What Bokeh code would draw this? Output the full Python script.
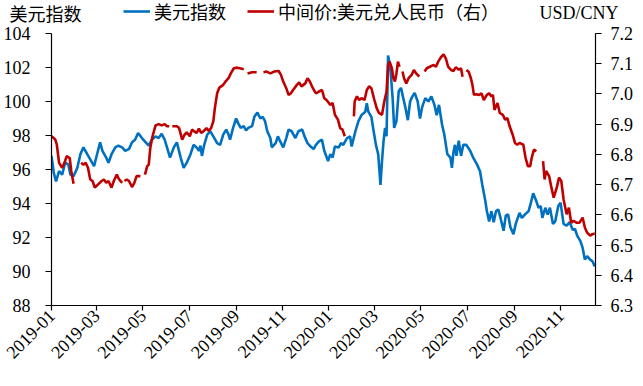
import math
from datetime import datetime
import pandas as pd
from bokeh.plotting import figure
from bokeh.models import (Range1d, LinearAxis, MonthsTicker, DatetimeTickFormatter,
                          FixedTicker, Legend, LegendItem, Label, CustomJSTickFormatter)
from bokeh.embed import file_html
from bokeh.resources import INLINE

NaN = float("nan")

# 美元指数 (left axis)
dxy_dates = [
    "2019-01-01", "2019-01-04", "2019-01-07", "2019-01-11", "2019-01-15", "2019-01-19", "2019-01-23", "2019-01-26",
    "2019-01-30", "2019-02-04", "2019-02-08", "2019-02-12", "2019-02-17", "2019-02-21", "2019-02-26", "2019-03-02",
    "2019-03-06", "2019-03-09", "2019-03-14", "2019-03-17", "2019-03-21", "2019-03-26", "2019-03-30", "2019-04-04",
    "2019-04-08", "2019-04-13", "2019-04-17", "2019-04-21", "2019-04-25", "2019-04-30", "2019-05-05", "2019-05-09",
    "2019-05-13", "2019-05-18", "2019-05-22", "2019-05-26", "2019-05-30", "2019-06-02", "2019-06-06", "2019-06-11",
    "2019-06-15", "2019-06-20", "2019-06-24", "2019-06-28", "2019-07-03", "2019-07-07", "2019-07-11", "2019-07-14",
    "2019-07-16", "2019-07-18", "2019-07-21", "2019-07-25", "2019-07-29", "2019-08-02", "2019-08-07", "2019-08-11",
    "2019-08-15", "2019-08-19", "2019-08-22", "2019-08-24", "2019-08-28", "2019-09-01", "2019-09-04", "2019-09-07",
    "2019-09-11", "2019-09-14", "2019-09-17", "2019-09-22", "2019-09-25", "2019-09-29", "2019-10-03", "2019-10-06",
    "2019-10-09", "2019-10-12", "2019-10-16", "2019-10-18", "2019-10-23", "2019-10-26", "2019-10-29", "2019-11-02",
    "2019-11-06", "2019-11-09", "2019-11-13", "2019-11-18", "2019-11-22", "2019-11-27", "2019-11-30", "2019-12-04",
    "2019-12-08", "2019-12-12", "2019-12-15", "2019-12-19", "2019-12-23", "2019-12-26", "2019-12-31", "2020-01-03",
    "2020-01-06", "2020-01-09", "2020-01-14", "2020-01-17", "2020-01-20", "2020-01-25", "2020-01-29", "2020-01-31",
    "2020-02-05", "2020-02-09", "2020-02-13", "2020-02-18", "2020-02-20", "2020-02-22", "2020-02-26", "2020-02-29",
    "2020-03-03", "2020-03-06", "2020-03-09", "2020-03-11", "2020-03-13", "2020-03-15", "2020-03-17", "2020-03-19",
    "2020-03-22", "2020-03-25", "2020-03-27", "2020-03-30", "2020-04-02", "2020-04-05", "2020-04-08", "2020-04-11",
    "2020-04-14", "2020-04-17", "2020-04-20", "2020-04-23", "2020-04-27", "2020-04-30", "2020-05-03", "2020-05-07",
    "2020-05-11", "2020-05-15", "2020-05-19", "2020-05-22", "2020-05-25", "2020-05-29", "2020-06-01", "2020-06-05",
    "2020-06-09", "2020-06-11", "2020-06-13", "2020-06-15", "2020-06-17", "2020-06-20", "2020-06-23", "2020-06-26",
    "2020-06-30", "2020-07-05", "2020-07-09", "2020-07-14", "2020-07-18", "2020-07-21", "2020-07-25", "2020-07-27",
    "2020-07-30", "2020-08-02", "2020-08-05", "2020-08-08", "2020-08-11", "2020-08-14", "2020-08-18", "2020-08-21",
    "2020-08-24", "2020-08-27", "2020-08-31", "2020-09-03", "2020-09-08", "2020-09-11", "2020-09-15", "2020-09-20",
    "2020-09-23", "2020-09-26", "2020-09-30", "2020-10-03", "2020-10-06", "2020-10-08", "2020-10-12", "2020-10-15",
    "2020-10-18", "2020-10-22", "2020-10-25", "2020-10-29", "2020-11-01", "2020-11-05", "2020-11-09", "2020-11-13",
    "2020-11-17", "2020-11-20", "2020-11-23", "2020-11-27", "2020-11-30", "2020-12-03", "2020-12-06", "2020-12-10",
    "2020-12-13", "2020-12-16",
]
dxy_values = [
    96.8, 95.8, 95.3, 95.9, 95.7, 96.4, 96.3, 95.7,
    95.6, 96.1, 96.9, 97.3, 96.9, 96.6, 96.2, 96.9,
    97.6, 97.1, 96.7, 96.4, 96.9, 97.3, 97.4, 97.3,
    97.1, 97.2, 97.6, 97.75, 98.15, 97.85, 97.6, 97.4,
    97.75, 97.95, 97.85, 98.1, 97.75, 97.3, 96.7, 97.3,
    97.6, 96.7, 96.1, 96.4, 96.9, 97.45, 97.3, 97.1,
    97.4, 96.8, 97.45, 98.05, 98.25, 97.95, 97.55, 97.45,
    98.05, 98.35, 98.05, 97.75, 98.45, 99.0, 98.7, 98.45,
    98.55, 98.3, 98.45, 98.55, 99.1, 99.35, 99.0, 99.1,
    98.85, 98.25, 97.85, 97.3, 97.55, 97.95, 97.65, 97.3,
    97.85, 98.35, 98.25, 97.85, 98.25, 98.35, 97.95, 97.55,
    97.35, 97.2, 97.45, 97.65, 97.75, 97.1, 96.5, 96.9,
    96.7, 97.35, 97.3, 97.55, 97.45, 97.85, 97.95, 97.35,
    98.25, 98.85, 99.2, 99.4, 99.9, 99.4, 99.1, 98.25,
    97.45, 96.9, 95.1, 96.5, 97.65, 98.45, 97.95, 102.7,
    101.95, 100.2, 98.45, 98.85, 100.6, 100.8, 100.2, 99.6,
    98.9, 100.0, 100.3, 100.5, 100.0, 99.0, 99.7, 100.2,
    100.0, 100.3, 99.8, 99.2, 99.8, 98.65, 98.05, 96.9,
    96.7, 96.1, 97.0, 97.45, 96.8, 97.7, 96.8, 97.45,
    97.45, 97.1, 96.7, 96.3, 95.9, 95.1, 94.15, 93.55,
    92.95, 93.55, 92.9, 93.55, 93.65, 93.15, 92.4, 93.3,
    93.35, 92.6, 92.2, 92.8, 93.45, 93.15, 93.35, 93.55,
    94.05, 94.6, 94.15, 93.75, 93.85, 93.15, 93.75, 93.35,
    93.75, 92.8, 92.95, 93.85, 94.05, 92.8, 92.7, 92.9,
    92.45, 92.5, 92.1, 91.8, 91.4, 90.7, 90.9, 90.7,
    90.6, 90.3,
]

# 中间价:美元兑人民币 (right axis); NaN marks holiday gaps
cny_dates = [
    "2019-01-01", "2019-01-06", "2019-01-08", "2019-01-11", "2019-01-15", "2019-01-18", "2019-01-21", "2019-01-25",
    "2019-01-27", "2019-01-30", "2019-02-02", "2019-02-09", "2019-02-12", "2019-02-15", "2019-02-18", "2019-02-21",
    "2019-02-24", "2019-02-27", "2019-03-03", "2019-03-08", "2019-03-11", "2019-03-14", "2019-03-17", "2019-03-21",
    "2019-03-24", "2019-03-28", "2019-03-31", "2019-04-04", "2019-04-05", "2019-04-07", "2019-04-10", "2019-04-13",
    "2019-04-17", "2019-04-20", "2019-04-23", "2019-04-28", "2019-05-01", "2019-05-04", "2019-05-07", "2019-05-09",
    "2019-05-11", "2019-05-14", "2019-05-18", "2019-05-22", "2019-05-26", "2019-05-30", "2019-06-02", "2019-06-05",
    "2019-06-07", "2019-06-09", "2019-06-15", "2019-06-18", "2019-06-22", "2019-06-25", "2019-06-28", "2019-07-02",
    "2019-07-05", "2019-07-08", "2019-07-11", "2019-07-14", "2019-07-17", "2019-07-20", "2019-07-24", "2019-07-27",
    "2019-07-30", "2019-08-02", "2019-08-04", "2019-08-07", "2019-08-10", "2019-08-15", "2019-08-18", "2019-08-22",
    "2019-08-25", "2019-08-29", "2019-09-01", "2019-09-06", "2019-09-11", "2019-09-13", "2019-09-16", "2019-09-22",
    "2019-09-28", "2019-10-02", "2019-10-07", "2019-10-11", "2019-10-16", "2019-10-21", "2019-10-27", "2019-10-30",
    "2019-11-02", "2019-11-06", "2019-11-09", "2019-11-12", "2019-11-15", "2019-11-20", "2019-11-23", "2019-11-26",
    "2019-12-01", "2019-12-04", "2019-12-07", "2019-12-11", "2019-12-15", "2019-12-19", "2019-12-23", "2019-12-26",
    "2019-12-29", "2020-01-03", "2020-01-06", "2020-01-09", "2020-01-13", "2020-01-16", "2020-01-19", "2020-01-22",
    "2020-01-26", "2020-02-03", "2020-02-04", "2020-02-07", "2020-02-10", "2020-02-13", "2020-02-17", "2020-02-20",
    "2020-02-23", "2020-02-26", "2020-03-01", "2020-03-04", "2020-03-07", "2020-03-11", "2020-03-14", "2020-03-17",
    "2020-03-19", "2020-03-21", "2020-03-24", "2020-03-26", "2020-03-28", "2020-03-30", "2020-04-01", "2020-04-03",
    "2020-04-05", "2020-04-07", "2020-04-09", "2020-04-12", "2020-04-15", "2020-04-19", "2020-04-22", "2020-04-25",
    "2020-04-29", "2020-05-02", "2020-05-06", "2020-05-09", "2020-05-13", "2020-05-18", "2020-05-21", "2020-05-24",
    "2020-05-28", "2020-05-31", "2020-06-03", "2020-06-06", "2020-06-10", "2020-06-13", "2020-06-16", "2020-06-20",
    "2020-06-23", "2020-06-25", "2020-06-27", "2020-06-30", "2020-07-03", "2020-07-06", "2020-07-08", "2020-07-10",
    "2020-07-13", "2020-07-17", "2020-07-20", "2020-07-23", "2020-07-27", "2020-07-30", "2020-08-02", "2020-08-04",
    "2020-08-06", "2020-08-10", "2020-08-13", "2020-08-17", "2020-08-20", "2020-08-23", "2020-08-26", "2020-08-30",
    "2020-09-02", "2020-09-05", "2020-09-08", "2020-09-13", "2020-09-16", "2020-09-19", "2020-09-22", "2020-09-24",
    "2020-09-27", "2020-09-30", "2020-10-04", "2020-10-09", "2020-10-11", "2020-10-13", "2020-10-17", "2020-10-20",
    "2020-10-23", "2020-10-27", "2020-10-30", "2020-11-02", "2020-11-05", "2020-11-09", "2020-11-12", "2020-11-15",
    "2020-11-18", "2020-11-22", "2020-11-26", "2020-11-30", "2020-12-03", "2020-12-06", "2020-12-10", "2020-12-13",
    "2020-12-16",
]
cny_values = [
    6.860, 6.849, 6.832, 6.772, 6.756, 6.772, 6.794, 6.788,
    6.745, 6.703, NaN, 6.772, 6.766, 6.772, 6.756, 6.717,
    6.712, 6.690, 6.700, 6.712, 6.717, 6.706, 6.712, 6.690,
    6.712, 6.733, 6.717, 6.706, NaN, 6.712, 6.717, 6.712,
    6.692, 6.706, 6.728, 6.728, NaN, 6.733, 6.761, 6.766,
    6.821, 6.860, 6.896, 6.900, 6.896, 6.900, 6.893, 6.893,
    NaN, 6.893, 6.893, 6.887, 6.849, 6.865, 6.873, 6.860,
    6.882, 6.876, 6.871, 6.885, 6.871, 6.876, 6.887, 6.878,
    6.887, 6.909, 6.953, 7.002, 7.021, 7.030, 7.041, 7.052,
    7.068, 7.085, 7.087, 7.085, 7.082, NaN, 7.068, 7.072,
    7.072, NaN, 7.072, 7.074, 7.068, 7.074, 7.076, 7.063,
    7.041, 7.019, 6.997, 7.002, 7.013, 7.030, 7.038, 7.025,
    7.035, 7.052, 7.041, 7.019, 7.002, 7.008, 7.013, 6.986,
    6.980, 6.964, 6.970, 6.931, 6.915, 6.887, 6.882, 6.860,
    NaN, 6.926, 6.975, 6.992, 6.980, 6.986, 6.980, 7.013,
    7.025, 7.019, 6.980, 6.953, 6.937, 6.931, 6.975, 7.008,
    7.096, 7.107, 7.085, 7.052, 7.041, 7.068, 7.107, 7.090,
    NaN, 7.074, 7.052, 7.035, 7.052, 7.063, 7.079, 7.068,
    7.057, NaN, 7.074, 7.085, 7.090, 7.096, 7.090, 7.107,
    7.123, 7.131, 7.118, 7.090, 7.079, 7.076, 7.088, 7.080,
    7.085, 7.057, NaN, 7.079, 7.074, 7.052, 7.030, 6.997,
    6.999, 6.997, 7.002, 6.980, 6.997, 7.002, 6.992, 6.997,
    6.947, 6.970, 6.937, 6.931, 6.915, 6.920, 6.893, 6.865,
    6.838, 6.832, 6.838, 6.832, 6.788, 6.761, 6.761, 6.788,
    6.816, 6.810, NaN, 6.778, 6.717, 6.745, 6.728, 6.690,
    6.657, 6.690, 6.723, 6.712, 6.651, 6.602, 6.624, 6.574,
    6.580, 6.574, 6.574, 6.591, 6.558, 6.541, 6.531, 6.536,
    6.538,
]

left_ticks = [88, 90, 92, 94, 96, 98, 100, 102, 104]
right_ticks = [6.3, 6.4, 6.5, 6.6, 6.7, 6.8, 6.9, 7.0, 7.1, 7.2]
series_names = ["美元指数", "中间价:美元兑人民币（右）"]
left_title = "美元指数"
right_title = "USD/CNY"

BLUE = "#0070C0"
RED = "#C00000"
SERIF = "Liberation Serif"
CJK = "Noto Sans CJK SC"
W = 627

# ---------- header: axis titles + legend (separate root, full-width frame) ----------
h = figure(width=W, height=24, output_backend="svg", toolbar_location=None,
           x_axis_location=None, y_axis_location=None,
           x_range=Range1d(0, 1), y_range=Range1d(0, 1),
           min_border_left=0, min_border_right=0, min_border_top=0, min_border_bottom=0)
h.grid.grid_line_color = None
h.outline_line_color = None
h.border_fill_color = "white"
lb = h.line(x=[NaN, NaN], y=[NaN, NaN], line_color=BLUE, line_width=2.6)
lr = h.line(x=[NaN, NaN], y=[NaN, NaN], line_color=RED, line_width=2.6)

legend = Legend(
    items=[LegendItem(label=series_names[0], renderers=[lb]),
           LegendItem(label=series_names[1], renderers=[lr])],
    orientation="horizontal", location=(123, 0),
    label_text_font=CJK, label_text_font_size="18px", label_text_color="black",
    glyph_width=27, glyph_height=18, label_height=18, spacing=21, padding=0, margin=0,
    border_line_color=None, background_fill_alpha=0, label_standoff=4,
)
h.add_layout(legend)
h.add_layout(Label(x=9, y=12, x_units="screen", y_units="screen", text=left_title,
                   text_font=CJK, text_font_size="18px", text_color="black",
                   text_baseline="middle"))
h.add_layout(Label(x=539, y=12, x_units="screen", y_units="screen", text=right_title,
                   text_font=SERIF, text_font_size="18px", text_color="black",
                   text_baseline="middle"))

# ---------- main chart ----------
p = figure(
    frame_width=544, frame_height=272, output_backend="svg", toolbar_location=None,
    x_axis_type="datetime",
    x_range=Range1d(datetime(2019, 1, 1), datetime(2020, 12, 17)),
    y_range=Range1d(88, 104),
    min_border_left=45, min_border_right=38, min_border_top=9, min_border_bottom=64,
)
p.extra_y_ranges = {"cny": Range1d(6.3, 7.2)}
p.outline_line_color = None
p.grid.grid_line_color = None
p.background_fill_color = "white"
p.border_fill_color = "white"

x1 = pd.to_datetime(dxy_dates)
x2 = pd.to_datetime(cny_dates)
p.line(x1, dxy_values, line_color=BLUE, line_width=2.6)
p.line(x2, cny_values, line_color=RED, line_width=2.6, y_range_name="cny")

def style_axis(ax):
    ax.axis_line_color = "black"
    ax.axis_line_width = 1.2
    ax.major_tick_line_color = "black"
    ax.major_tick_line_width = 1.2
    ax.major_tick_out = 6
    ax.major_tick_in = 0
    ax.minor_tick_line_color = None
    ax.major_label_text_font = SERIF
    ax.major_label_text_font_size = "18px"
    ax.major_label_text_color = "black"

xa = p.xaxis[0]
style_axis(xa)
xa.major_tick_out = 5
xa.ticker = MonthsTicker(months=[0, 2, 4, 6, 8, 10])
xa.formatter = DatetimeTickFormatter(months="%Y-%m", days="%Y-%m", years="%Y-%m")
xa.major_label_orientation = math.pi / 4
xa.major_label_standoff = 2

ya = p.yaxis[0]
style_axis(ya)
ya.ticker = FixedTicker(ticks=left_ticks)
ya.major_label_standoff = 15

ra = LinearAxis(y_range_name="cny", ticker=FixedTicker(ticks=right_ticks))
style_axis(ra)
ra.formatter = CustomJSTickFormatter(code="return tick.toFixed(1);")
ra.major_label_standoff = 9
p.add_layout(ra, "right")

open("out.html", "w").write(file_html([h, p], INLINE))
